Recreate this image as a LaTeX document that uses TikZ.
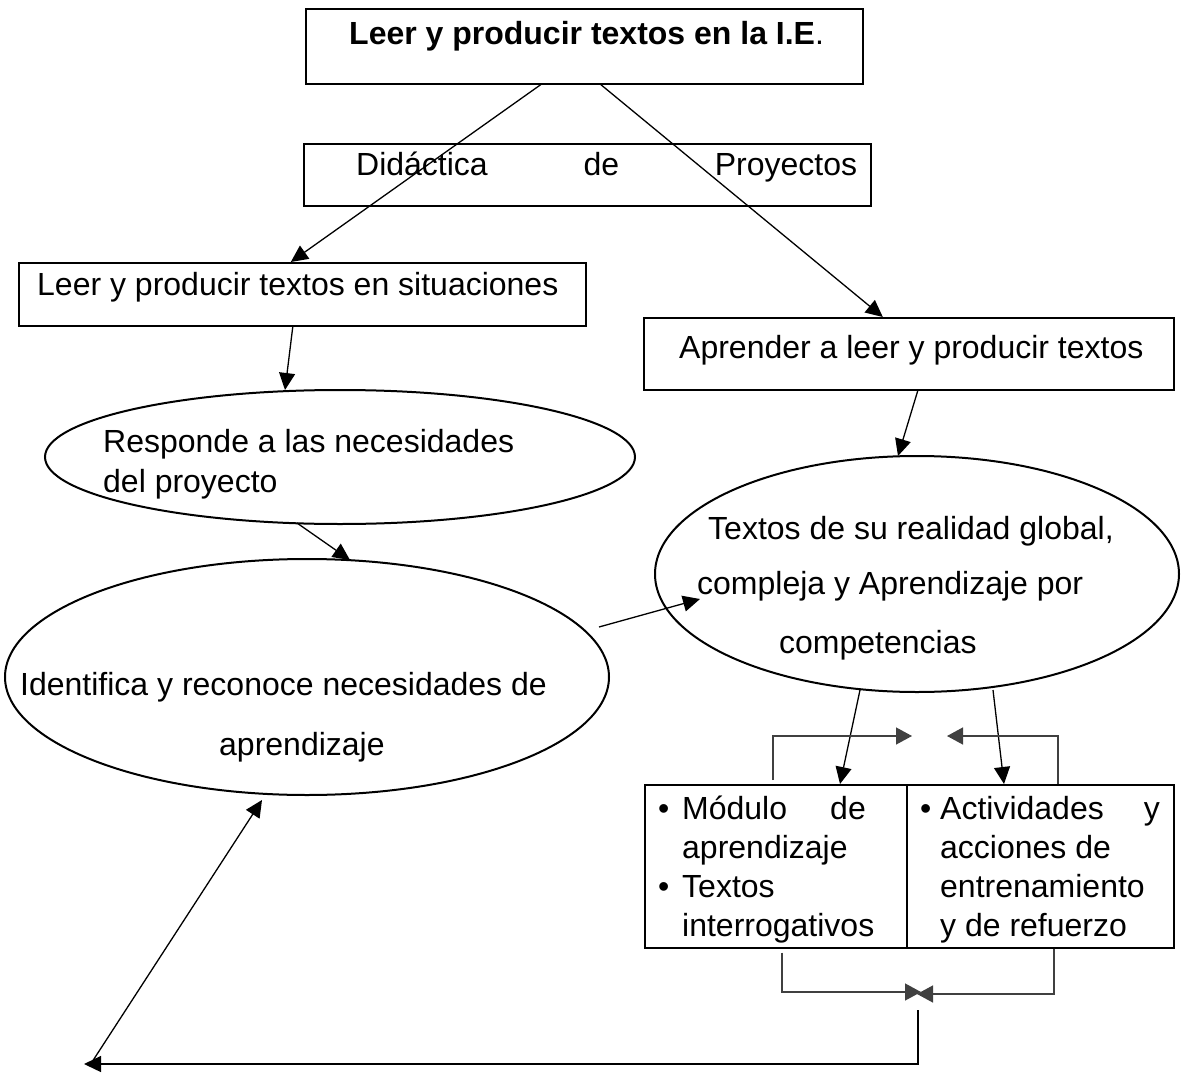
\documentclass[tikz,border=0pt]{standalone}
\usepackage{fontspec}
\setmainfont{Liberation Sans}
\usetikzlibrary{arrows.meta,shapes.geometric,calc}
\begin{document}
\begin{tikzpicture}[x=1pt,y=-1pt,
  box/.style={draw,line width=1.6pt,rectangle,inner sep=0pt,anchor=north west},
  ell/.style={draw,line width=2pt,ellipse,inner sep=0pt},
  txt/.style={inner sep=0pt,anchor=base west,font=\fontsize{32}{39}\selectfont},
  txtr/.style={txt,anchor=base east},
  conn/.style={line width=1.3pt,-{Triangle[length=17pt,width=16pt]}},
  brk/.style={line width=1.4pt,draw=black!75,-{Triangle[length=16pt,width=17pt]}}]
\useasboundingbox (0,0) rectangle (1187,1073);
% boxes
\node[box,minimum width=557pt,minimum height=75pt] (top) at (305,8) {};
\node[box,minimum width=567pt,minimum height=62pt] (did) at (303,143) {};
\node[box,minimum width=567pt,minimum height=63pt] (sit) at (18,262) {};
\node[box,minimum width=530pt,minimum height=72pt] (apr) at (643,317) {};
\node[ell,minimum width=590pt,minimum height=134pt] (e1) at (340,457) {};
\node[ell,minimum width=604pt,minimum height=236pt] (e2) at (307,677) {};
\node[ell,minimum width=524pt,minimum height=236pt] (e3) at (917,574) {};
\node[box,minimum width=529pt,minimum height=163pt] (tab) at (644,784) {};
\draw[line width=1.6pt] ($(tab.north west)+(263,0)$) -- ($(tab.south west)+(263,0)$);
% texts
\node[txt] (t1) at (349,45) {\textbf{Leer y producir textos en la I.E}.};
\node[txt] (t2) at (356,175) {\hbox to 501pt{Didáctica\hfill de\hfill Proyectos}};
\node[txt] (t3) at (37,295) {Leer y producir textos en situaciones};
\node[txt] (t4) at (679,358) {Aprender a leer y producir textos};
\node[txt] (t5a) at (103,452) {Responde a las necesidades};
\node[txt] (t5b) at (103,492) {del proyecto};
\node[txt] (t6a) at (20,695) {Identifica y reconoce necesidades de};
\node[txt] (t6b) at (219,755) {aprendizaje};
\node[txt] (t7a) at (708,539) {Textos de su realidad global,};
\node[txt] (t7b) at (697,594) {compleja y Aprendizaje por};
\node[txt] (t7c) at (779,653) {competencias};
\node[txt] (b1) at (658,819) {•};
\node[txt] (l1a) at (682,819) {Módulo};
\node[txtr] (l1b) at (866,819) {de};
\node[txt] (l2) at (682,858) {aprendizaje};
\node[txt] (b2) at (658,897) {•};
\node[txt] (l3) at (682,897) {Textos};
\node[txt] (l4) at (682,936) {interrogativos};
\node[txt] (b3) at (920,819) {•};
\node[txt] (r1a) at (940,819) {Actividades};
\node[txtr] (r1b) at (1160,819) {y};
\node[txt] (r2) at (940,858) {acciones de};
\node[txt] (r3) at (940,897) {entrenamiento};
\node[txt] (r4) at (940,936) {y de refuerzo};
% free-end coordinates
\coordinate (mL) at (912,736);
\coordinate (mR) at (947,736);
\coordinate (bL) at (921,992);
\coordinate (bR) at (917,994);
\coordinate (jn) at (918,1010);
\coordinate (endL) at (84,1064);
\coordinate (dst) at (92,1062);
% connectors
\draw[conn] ($(top.south)+(-43.5,0)$) -- ($(sit.north)+(-11.5,0)$);
\draw[conn] ($(top.south)+(16.5,0)$) -- ($(apr.north)+(-26,0)$);
\draw[conn] ($(sit.south)+(-9.5,0)$) -- ($(e1.center)+(-55,-67)$);
\draw[conn] ($(apr.south)+(9,0)$) -- ($(e3.center)+(-19,-118)$);
\draw[conn] ($(e1.center)+(-43,66)$) -- ($(e2.center)+(43,-117)$);
\draw[conn] ($(e2.center)+(292,-50)$) -- ($(e3.center)+(-217,25)$);
\draw[conn] ($(e3.center)+(-57,116)$) -- ($(tab.north west)+(196,0)$);
\draw[conn] ($(e3.center)+(76,116)$) -- ($(tab.north west)+(360,0)$);
\draw[brk] ($(tab.north west)+(129,-4)$) |- (mL);
\draw[brk] ($(tab.north west)+(414,0)$) |- (mR);
\draw[brk] ($(tab.south west)+(138,4)$) |- (bL);
\draw[brk] ($(tab.south west)+(410,0)$) |- (bR);
\draw[conn] (jn) |- (endL);
\draw[conn] (dst) -- ($(e2.center)+(-45,123)$);
\end{tikzpicture}
\end{document}
